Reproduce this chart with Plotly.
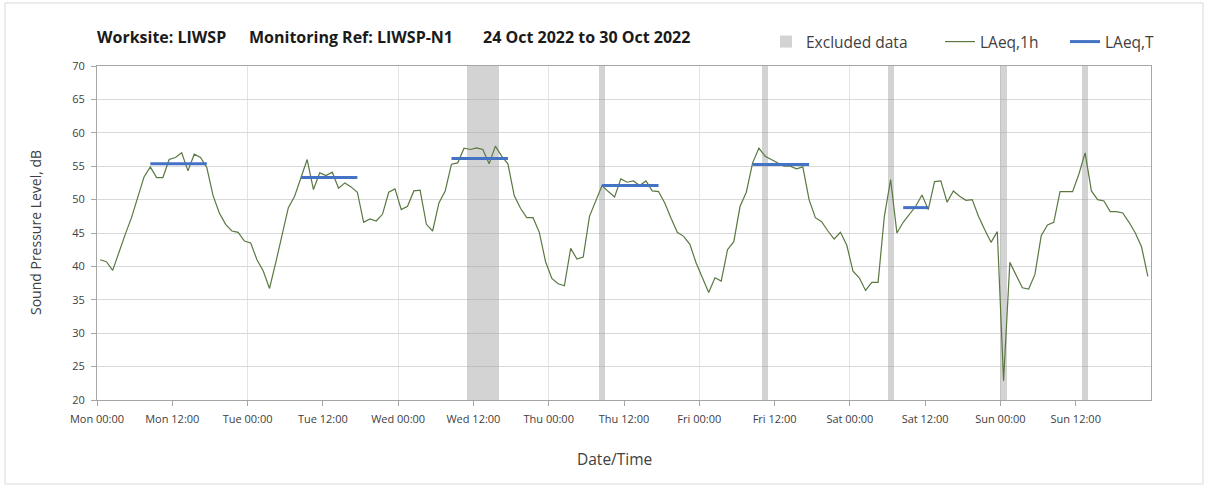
import plotly.graph_objects as go

# ---- Data (hourly LAeq,1h values, dB) ----
mon = [41.0, 40.7, 39.4, 42.2, 44.8, 47.3, 50.5, 53.4, 54.9, 53.3, 53.3, 56.0,
       56.3, 57.0, 54.3, 56.8, 56.3, 54.8, 50.6, 48.0, 46.3, 45.3, 45.1, 43.8]
tue = [43.5, 41.0, 39.3, 36.7, 40.6, 44.6, 48.8, 50.5, 53.1, 56.0, 51.5, 54.0,
       53.6, 54.1, 51.7, 52.5, 51.9, 51.1, 46.6, 47.1, 46.8, 47.8, 51.1, 51.6]
wed = [48.5, 49.0, 51.3, 51.4, 46.3, 45.3, 49.5, 51.3, 55.3, 55.5, 57.7, 57.5,
       57.75, 57.5, 55.35, 58.0, 56.5, 55.35, 50.6, 48.7, 47.3, 47.3, 45.1, 40.7]
thu = [38.2, 37.4, 37.1, 42.7, 41.1, 41.4, 47.5, 49.7, 52.1, 51.2, 50.4, 53.1,
       52.6, 52.8, 52.1, 52.8, 51.3, 51.2, 49.5, 47.2, 45.1, 44.5, 43.3, 40.5]
fri = [38.3, 36.1, 38.3, 37.8, 42.5, 43.7, 49.0, 51.1, 55.5, 57.7, 56.5, 56.0,
       55.4, 55.0, 55.0, 54.6, 54.9, 50.0, 47.3, 46.7, 45.3, 44.1, 45.1, 43.2]
sat = [39.3, 38.3, 36.4, 37.6, 37.6, 47.5, 53.0, 45.0, 46.6, 47.8, 49.0, 50.7,
       48.5, 52.7, 52.8, 49.6, 51.3, 50.5, 49.9, 50.0, 47.5, 45.5, 43.6, 45.2]
sun = [22.9, 40.6, 38.7, 36.8, 36.6, 38.8, 44.6, 46.2, 46.6, 51.2, 51.2, 51.2,
       53.8, 57.0, 51.3, 50.0, 49.8, 48.2, 48.2, 48.0, 46.6, 45.0, 42.9, 38.5]

# hour indices (from Mon 00:00) of excluded hourly periods
excluded_hours = [59, 60, 61, 62, 63, 80, 106, 126, 144, 157]

# LAeq,T periods: first and last hour index, and value
laeq_t_start = [8, 32, 56, 80, 104, 128]
laeq_t_end = [17, 41, 65, 89, 113, 132]
laeq_t_value = [55.35, 53.3, 56.15, 52.1, 55.25, 48.8]

day_names = ["Mon", "Tue", "Wed", "Thu", "Fri", "Sat", "Sun"]
tick_labels_00 = [f"{d} 00:00" for d in day_names]
tick_labels_12 = [f"{d} 12:00" for d in day_names]

# ---- Build series ----
laeq_1h = mon + tue + wed + thu + fri + sat + sun
x_hours = [h + 0.5 for h in range(len(laeq_1h))]

ex_x = [h + 0.5 for h in excluded_hours]
ex_y = [70] * len(excluded_hours)

t_x, t_y = [], []
for s, e, v in zip(laeq_t_start, laeq_t_end, laeq_t_value):
    for h in range(s, e + 1):
        t_x.append(h + 0.5)
        t_y.append(v)
    t_x.append(None)
    t_y.append(None)

# ---- Geometry helpers ----
W, H = 1208, 490
L, R, T, B = 97, 1151, 66, 400


def px(xp):
    return (xp - L) / (R - L)


def py(yp):
    return (B - yp) / (B - T)


FONT = "Open Sans"
fig = go.Figure()

fig.add_trace(go.Bar(
    x=ex_x, y=ex_y, width=1, name="Excluded data", legend="legend",
    marker=dict(color="rgba(150,150,150,0.42)", line=dict(width=0)),
    hoverinfo="skip",
))
fig.add_trace(go.Scatter(
    x=x_hours, y=laeq_1h, mode="lines", name="LAeq,1h", legend="legend2",
    line=dict(color="#5A7842", width=1.2),
))
fig.add_trace(go.Scatter(
    x=t_x, y=t_y, mode="lines", name="LAeq,T", xaxis="x2", legend="legend3",
    line=dict(color="#4472C4", width=3), connectgaps=False,
))

axis_line = "#A6A6A6"
leg_common = dict(orientation="h", xanchor="left", yanchor="middle",
                  font=dict(family=FONT, size=15.5, color="#404040"),
                  bgcolor="rgba(0,0,0,0)", borderwidth=0)
tickfont = dict(family=FONT, size=11, color="#404040")
fig.update_layout(
    width=W, height=H,
    margin=dict(l=L, r=W - R, t=T, b=H - B, autoexpand=False),
    paper_bgcolor="white", plot_bgcolor="white",
    font=dict(family=FONT, color="#404040"),
    bargap=0,
    showlegend=True,
    legend=dict(x=px(766), y=py(42), **leg_common),
    legend2=dict(x=px(940), y=py(42), **leg_common),
    legend3=dict(x=px(1065), y=py(42), **leg_common),
    xaxis=dict(
        range=[0, 168], tickmode="array", tickvals=[24 * i for i in range(7)],
        ticktext=tick_labels_00, showgrid=True, gridcolor="#E3E3E3", gridwidth=1,
        ticks="outside", ticklen=5, tickcolor=axis_line, showline=True,
        linecolor=axis_line, linewidth=1, mirror=True, zeroline=False,
        tickfont=tickfont, ticklabelstandoff=4,
    ),
    xaxis2=dict(
        range=[0, 168], overlaying="x", anchor="y", side="bottom",
        tickmode="array", tickvals=[24 * i + 12 for i in range(7)],
        ticktext=tick_labels_12, showgrid=False, ticks="outside", ticklen=5,
        tickcolor=axis_line, showline=False, zeroline=False,
        tickfont=tickfont, ticklabelstandoff=4,
    ),
    yaxis=dict(
        range=[20, 70], dtick=5, tick0=20, showgrid=True, gridcolor="#D9D9D9",
        gridwidth=1.3, ticks="outside", ticklen=5, tickcolor=axis_line,
        showline=True, linecolor=axis_line, linewidth=1, mirror=True,
        zeroline=False, tickfont=tickfont, ticklabelstandoff=4,
    ),
)

title_font = dict(family=FONT, size=16, color="#1A1A1A", weight="bold")
for txt, xpos in [("Worksite: LIWSP", 95), ("Monitoring Ref: LIWSP-N1", 247),
                  ("24 Oct 2022 to 30 Oct 2022", 481)]:
    fig.add_annotation(text=txt, x=px(xpos), y=py(37), xref="paper", yref="paper",
                       xanchor="left", yanchor="middle", showarrow=False, font=title_font)

fig.add_annotation(text="Sound Pressure Level, dB", x=px(35), y=0.5, xref="paper",
                   yref="paper", xanchor="center", yanchor="middle", textangle=-90,
                   showarrow=False, font=dict(family=FONT, size=14, color="#404040"))
fig.add_annotation(text="Date/Time", x=px(614), y=py(459), xref="paper", yref="paper",
                   xanchor="center", yanchor="middle", showarrow=False,
                   font=dict(family=FONT, size=15.5, color="#404040"))

# outer chart border
fig.add_shape(type="rect", xref="paper", yref="paper", x0=px(5), x1=px(1203),
              y0=py(484), y1=py(3), line=dict(color="#D9D9D9", width=1), layer="below")

fig.write_html("out.html", config={"displayModeBar": False},
               post_script="document.body.style.margin='0px';")
